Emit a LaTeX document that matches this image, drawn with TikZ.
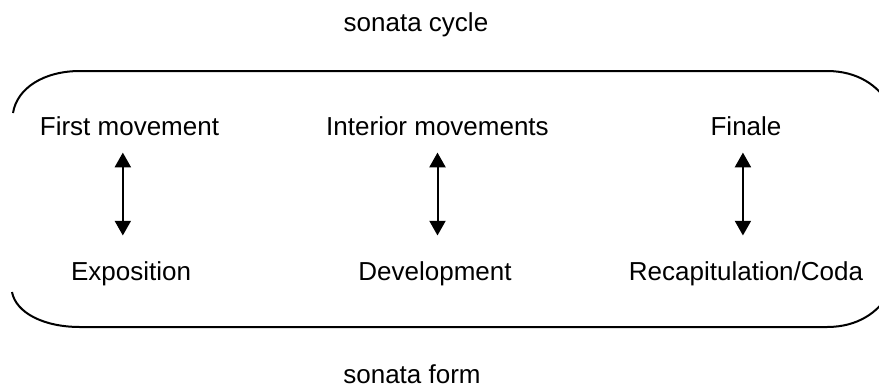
\documentclass[tikz,border=0pt]{standalone}
\usepackage{fontspec}
\setmainfont{Liberation Sans}
\usetikzlibrary{arrows.meta}

\begin{document}
\begin{tikzpicture}[
  x=0.75pt, y=-0.75pt,
  font=\fontsize{19.5}{23}\selectfont,
  label/.style={inner sep=0pt, text height=0.72em, text depth=0.25em, anchor=base},
  link/.style={{Triangle[width=12pt,length=11pt]}-{Triangle[width=12pt,length=11pt]},
    line width=1.5pt, shorten <=10.5pt, shorten >=26pt},
  frame/.style={line width=1.5pt},
]
\clip (0,0) rectangle (879,387);
\node[label] (cycle) at (416,31) {sonata cycle};
\node[label, text depth=0pt] (form) at (412,383) {sonata form};
% upper row
\node[label] (first) at (129.5,135) {First movement};
\node[label] (inner) at (437.5,135) {Interior movements};
\node[label] (finale) at (746,135) {Finale};
% lower row
\node[label] (expo) at (131,280) {Exposition};
\node[label] (devel) at (435,280) {Development};
\node[label] (recap) at (746,280) {Recapitulation/Coda};
\draw[link] ([xshift=-5pt]first.south) -- ([xshift=-5pt]first.south |- expo.north);
\draw[link] (inner.south) -- (inner.south |- devel.north);
\draw[link] ([xshift=-2.3pt]finale.south) -- ([xshift=-2.3pt]finale.south |- recap.north);
% open bracket round both rows
\draw[frame] (13,113) .. controls (17,88) and (44,71) .. (80,71) -- (827,71)
  .. controls (858,71) and (878,86) .. (888,103);
\draw[frame] (12,292) .. controls (16,313) and (44,327) .. (80,327) -- (827,327)
  .. controls (858,327) and (878,312) .. (888,295);
\end{tikzpicture}
\end{document}
